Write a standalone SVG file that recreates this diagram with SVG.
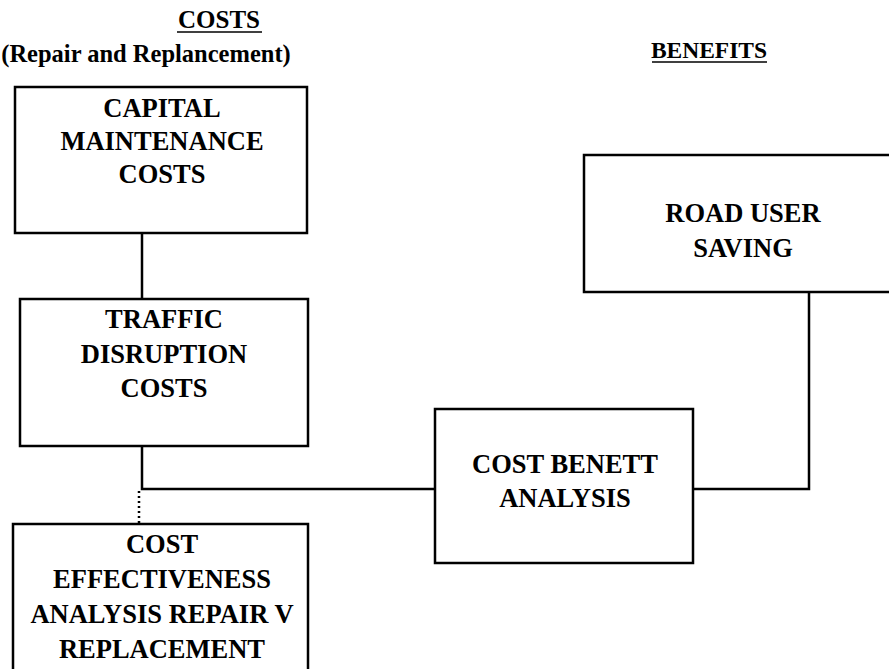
<svg xmlns="http://www.w3.org/2000/svg" width="889" height="669" viewBox="0 0 889 669">
  <style>
    .box { fill: #fff; stroke: #000; stroke-width: 2.5; }
    .lbl { font-family: "Liberation Serif", "Times New Roman", serif; font-weight: bold; font-size: 26.5px; fill: #000; text-anchor: middle; }
    .hdr { font-family: "Liberation Serif", "Times New Roman", serif; font-weight: bold; fill: #000; text-anchor: middle; }
    .wire { fill: none; stroke: #000; stroke-width: 2.5; }
    .dots { fill: none; stroke: #000; stroke-width: 2.5; stroke-dasharray: 2 3; }
  </style>
  <rect width="889" height="669" fill="#fff"/>

  <!-- headings -->
  <g id="heading-costs">
    <text class="hdr" x="219" y="28" font-size="25">COSTS</text>
    <line x1="177" y1="32" x2="262" y2="32" stroke="#000" stroke-width="1.5"/>
    <text class="hdr" x="146" y="62" font-size="24.5">(Repair and Replancement)</text>
  </g>
  <g id="heading-benefits">
    <text class="hdr" x="709" y="58" font-size="23.5">BENEFITS</text>
    <line x1="652" y1="62" x2="767" y2="62" stroke="#000" stroke-width="1.5"/>
  </g>

  <!-- connectors -->
  <g id="connectors">
    <line class="wire" x1="142" y1="233" x2="142" y2="299"/>
    <polyline class="wire" points="142,446 142,489 435,489"/>
    <line class="dots" x1="139" y1="491" x2="139" y2="524"/>
    <polyline class="wire" points="693,489 809,489 809,292"/>
  </g>

  <!-- nodes -->
  <g id="capital-maintenance">
    <rect class="box" x="15" y="87" width="292" height="146"/>
    <text class="lbl" x="162" y="117">CAPITAL</text>
    <text class="lbl" x="162" y="150">MAINTENANCE</text>
    <text class="lbl" x="162" y="183">COSTS</text>
  </g>
  <g id="traffic-disruption">
    <rect class="box" x="20" y="299" width="288" height="147"/>
    <text class="lbl" x="164" y="328">TRAFFIC</text>
    <text class="lbl" x="164" y="363">DISRUPTION</text>
    <text class="lbl" x="164" y="397">COSTS</text>
  </g>
  <g id="cost-effectiveness">
    <rect class="box" x="13" y="524" width="295" height="160"/>
    <text class="lbl" x="162" y="553">COST</text>
    <text class="lbl" x="162" y="588">EFFECTIVENESS</text>
    <text class="lbl" x="162" y="623">ANALYSIS REPAIR V</text>
    <text class="lbl" x="162" y="658">REPLACEMENT</text>
  </g>
  <g id="cost-benefit">
    <rect class="box" x="435" y="409" width="258" height="154"/>
    <text class="lbl" x="565" y="473">COST BENETT</text>
    <text class="lbl" x="565" y="507">ANALYSIS</text>
  </g>
  <g id="road-user-saving">
    <rect class="box" x="584" y="155" width="320" height="137"/>
    <text class="lbl" x="743" y="222">ROAD USER</text>
    <text class="lbl" x="743" y="257">SAVING</text>
  </g>
</svg>
